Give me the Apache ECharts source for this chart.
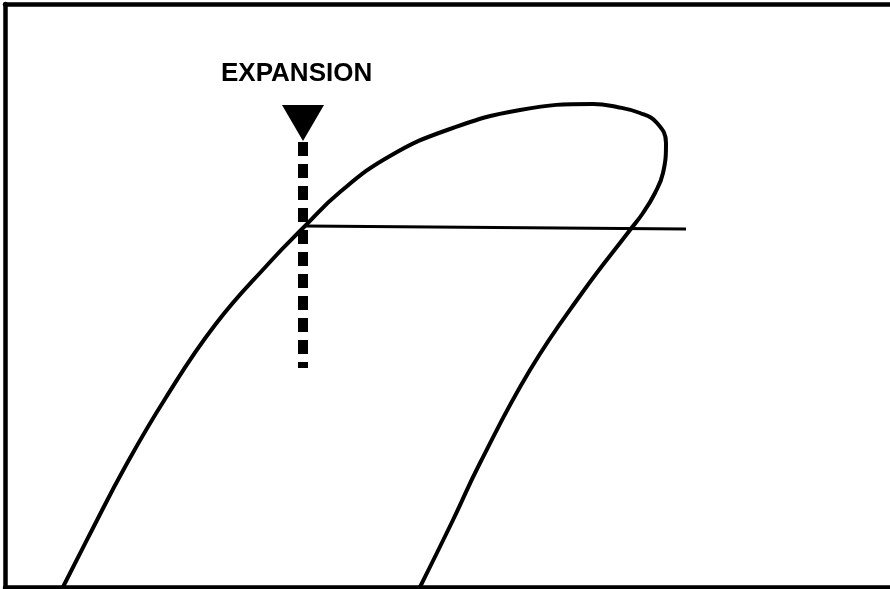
<!DOCTYPE html>
<html>
<head>
<meta charset="utf-8">
<script src="https://cdn.jsdelivr.net/npm/echarts@6/dist/echarts.min.js"></script>
<style>html,body{margin:0;padding:0;background:#fff}#c{width:890px;height:589px}</style>
</head>
<body>
<div id="c"></div>
<script>
// Saturation dome (arbitrary units: x = enthalpy-like, y = pressure-like)
const domeCurve = [
  [58,0],[87,57],[120,120],[160,188],[210,262],[265,325],[298,359],[335,395],[385,431],
  [445,458],[515,477],[588,483],[612,480],[635,474],[652,464],[661,444],[658,414],
  [650,394],[638,374],[625,357],[577,294],[525,217],[475,124],[448,67],[415,0]
];
const pressureLine = [[300,361],[681,358]];
const expansionLine = [[298,445],[298,219]];
const expansionMarker = [[298,464]];
const labelText = 'EXPANSION';

const chart = echarts.init(document.getElementById('c'), null, {renderer:'canvas'});
const axisCommon = {
  type:'value', axisTick:{show:false}, axisLabel:{show:false}, splitLine:{show:false},
  axisLine:{show:true, onZero:false, lineStyle:{color:'#000', width:4.5}}
};
chart.setOption({
  animation:false,
  backgroundColor:'#fff',
  title:{
    text: labelText, left:221, top:61, padding:0,
    textStyle:{fontFamily:'Liberation Sans, Arial, sans-serif', fontSize:26, fontWeight:'bold', color:'#000'}
  },
  grid:{left:5, top:4, right:0, bottom:2},
  xAxis:[
    Object.assign({}, axisCommon, {min:0, max:885, position:'bottom'}),
    Object.assign({}, axisCommon, {min:0, max:885, position:'top'})
  ],
  yAxis:[Object.assign({}, axisCommon, {min:0, max:583, position:'left'})],
  series:[
    {type:'line', data:domeCurve, smooth:0.45, smoothConstraint:false, symbol:'none', lineStyle:{color:'#000', width:4}},
    {type:'line', data:pressureLine, symbol:'none', lineStyle:{color:'#000', width:3}},
    {type:'line', data:expansionLine, symbol:'none', lineStyle:{color:'#000', width:10, type:[14,8], cap:'butt'}},
    {type:'scatter', data:expansionMarker, symbol:'triangle', symbolRotate:180, symbolSize:[42,36],
     itemStyle:{color:'#000', opacity:1}}
  ]
});
</script>
</body>
</html>
